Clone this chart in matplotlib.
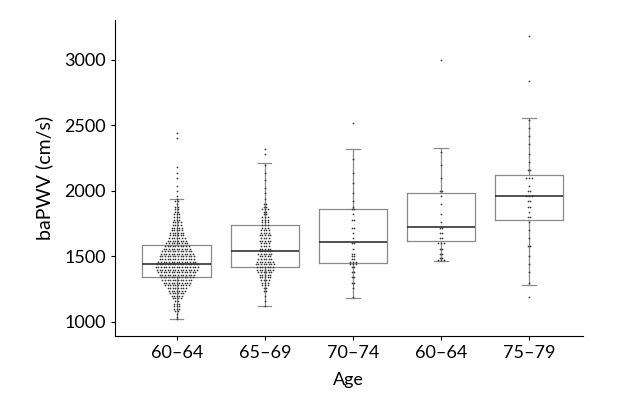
import matplotlib.pyplot as plt
import numpy as np

# Age groups (as labelled in the figure)
groups = ["60\u201364", "65\u201369", "70\u201374", "60\u201364", "75\u201379"]

# Box statistics (cm/s)
q1 = [1343, 1420, 1450, 1617, 1777]
med = [1442, 1541, 1610, 1724, 1960]
q3 = [1587, 1740, 1860, 1983, 2120]
whislo = [1023, 1122, 1183, 1465, 1282]
whishi = [1940, 2212, 2320, 2326, 2555]

# Dot plot: bin centre (cm/s) and number of dots in that row, per group
g1_bins = [1020, 1040, 1060, 1080, 1100, 1120, 1140, 1160, 1180, 1200, 1220, 1240,
           1260, 1280, 1300, 1320, 1340, 1360, 1380, 1400, 1420, 1440, 1460, 1480,
           1500, 1520, 1540, 1560, 1580, 1600, 1620, 1640, 1660, 1680, 1700, 1720,
           1740, 1760, 1780, 1800, 1820, 1840, 1860, 1880, 1900, 1920, 1940, 1960,
           2000, 2040, 2100, 2140, 2180, 2400, 2440]
g1_counts = [1, 1, 1, 2, 3, 3, 3, 2, 4, 5, 6, 7,
             8, 10, 11, 12, 13, 14, 15, 16, 17, 16, 15, 14,
             14, 13, 12, 11, 10, 9, 8, 7, 6, 6, 5, 5,
             4, 4, 3, 3, 3, 2, 2, 2, 1, 2, 1, 1,
             1, 1, 1, 1, 1, 1, 1]

g2_bins = [1120, 1160, 1200, 1240, 1260, 1280, 1300, 1320, 1340, 1360, 1380, 1400,
           1420, 1440, 1460, 1480, 1500, 1520, 1540, 1560, 1580, 1600, 1620, 1640,
           1660, 1680, 1700, 1720, 1740, 1760, 1780, 1800, 1820, 1840, 1860, 1880,
           1900, 1940, 1980, 2020, 2080, 2140, 2200, 2280, 2320]
g2_counts = [1, 1, 1, 2, 2, 3, 3, 4, 5, 5, 6, 7,
             7, 8, 7, 6, 5, 6, 5, 5, 4, 4, 5, 4,
             5, 4, 4, 3, 3, 3, 3, 3, 2, 2, 3, 2,
             2, 1, 1, 1, 1, 1, 1, 1, 1]

g3_bins = [1190, 1260, 1300, 1340, 1380, 1420, 1440, 1460, 1480, 1500, 1520, 1560,
           1600, 1640, 1680, 1720, 1780, 1820, 1860, 1880, 1920, 1980, 2060, 2140,
           2240, 2520]
g3_counts = [1, 1, 2, 2, 2, 2, 3, 3, 2, 2, 2, 1,
             2, 1, 1, 2, 2, 1, 2, 1, 1, 1, 1, 1,
             1, 1]

g4_bins = [1470, 1490, 1520, 1560, 1600, 1640, 1680, 1720, 1760, 1820, 1900, 1960,
           2000, 2100, 2200, 2300, 3000]
g4_counts = [3, 2, 2, 2, 3, 2, 2, 2, 1, 1, 1, 1,
             2, 1, 1, 1, 1]

g5_bins = [1190, 1300, 1380, 1440, 1500, 1580, 1640, 1700, 1760, 1800, 1840, 1880,
           1920, 1960, 2000, 2040, 2100, 2160, 2220, 2280, 2360, 2420, 2480, 2540,
           2840, 3180]
g5_counts = [1, 1, 1, 1, 1, 2, 1, 1, 1, 2, 1, 2,
             2, 3, 2, 1, 3, 2, 1, 1, 1, 1, 1, 1,
             1, 1]

bins = [g1_bins, g2_bins, g3_bins, g4_bins, g5_bins]
counts = [g1_counts, g2_counts, g3_counts, g4_counts, g5_counts]

plt.rcParams['font.family'] = ['Lato', 'DejaVu Sans']

fig = plt.figure(figsize=(6.2, 4.2), dpi=100)
ax = fig.add_axes([0.185, 0.2, 0.755, 0.752])

stats = []
for i in range(len(groups)):
    stats.append({'med': med[i], 'q1': q1[i], 'q3': q3[i],
                  'whislo': whislo[i], 'whishi': whishi[i], 'fliers': []})

pos = np.arange(1, len(groups) + 1)
ax.bxp(stats, positions=pos, widths=0.78, capwidths=0.15, showfliers=False,
       boxprops=dict(color='#8a8a8a', linewidth=0.9),
       whiskerprops=dict(color='#8a8a8a', linewidth=0.9),
       capprops=dict(color='#8a8a8a', linewidth=0.9),
       medianprops=dict(color='#222222', linewidth=1.1))

# stacked dots, centred on each group
dx = 0.03
for i, p in enumerate(pos):
    xs, ys = [], []
    for b, n in zip(bins[i], counts[i]):
        for k in range(n):
            xs.append(p + (k - (n - 1) / 2) * dx)
            ys.append(b)
    ax.scatter(xs, ys, s=1.5, color='#333333', linewidths=0, zorder=3)

ax.set_xlim(0.295, 5.61)
ax.set_ylim(893, 3302)
ax.set_yticks([1000, 1500, 2000, 2500, 3000])
ax.set_xticks(pos)
ax.set_xticklabels(groups)
ax.tick_params(labelsize=13, length=3, width=0.8)
ax.set_xlabel('Age', fontsize=13, labelpad=8)
ax.set_ylabel('baPWV (cm/s)', fontsize=14, labelpad=8)
ax.spines['top'].set_visible(False)
ax.spines['right'].set_visible(False)

fig.savefig('out.png', dpi=100)
